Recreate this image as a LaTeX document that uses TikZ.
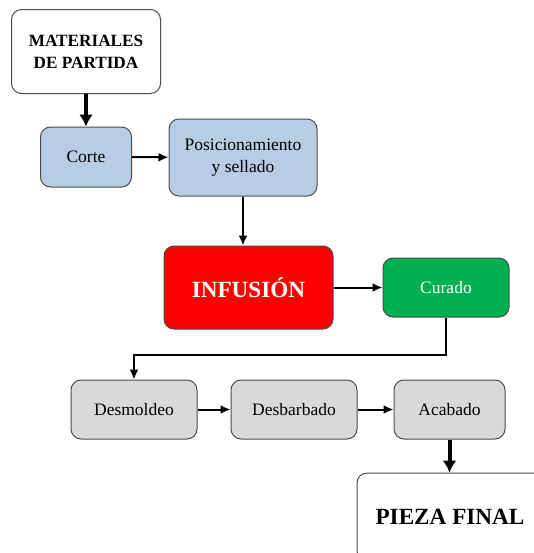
\documentclass[tikz,border=0pt]{standalone}
\usepackage{fontspec}
\setmainfont{Liberation Serif}
\usepackage{xcolor}
\usetikzlibrary{arrows.meta}
\definecolor{azulclaro}{RGB}{184,204,228}
\definecolor{rojoinf}{RGB}{255,0,0}
\definecolor{verdecur}{RGB}{0,176,80}
\definecolor{grisclaro}{RGB}{217,217,217}
\def\boxh{29.5pt}

\begin{document}
\begin{tikzpicture}[x=0.5pt, y=-0.5pt,
		box/.style={rectangle, rounded corners=5pt, draw=gray!60!black, line width=0.5pt,
			align=center, inner sep=0pt, font=\fontsize{8.75}{11}\selectfont},
		big/.style={box, font=\fontsize{8.6}{11}\selectfont\bfseries},
		huge/.style={box, font=\fontsize{11.6}{14}\selectfont\bfseries},
		arr/.style={line width=1pt, -{Latex[length=5pt, width=4.5pt]}},
		fat/.style={line width=2pt, -{Latex[length=6pt, width=7pt]}}]
		\clip (0,0) rectangle (534,553);
		% etapas
		\node[big, fill=white, minimum width=74.5pt, minimum height=42pt] (mat) at (86,51.5) {MATERIALES\\DE PARTIDA};
		\node[box, fill=azulclaro, minimum width=45.5pt, minimum height=30pt] (corte) at (86,157) {Corte};
		\node[box, fill=azulclaro, minimum width=74pt, minimum height=38.5pt] (pos) at (243,157.5) {Posicionamiento\\y sellado};
		\node[huge, fill=rojoinf, text=white, minimum width=84.5pt, minimum height=41.5pt] (inf) at (248.5,287.5) {INFUSIÓN};
		\node[box, fill=verdecur, text=white, minimum width=63pt, minimum height=\boxh] (cur) at (446,287.5) {Curado};
		\node[box, fill=grisclaro, minimum width=63pt, minimum height=\boxh] (desm) at (134,409.5) {Desmoldeo};
		\node[box, fill=grisclaro, minimum width=63pt, minimum height=\boxh] (desb) at (294,409.5) {Desbarbado};
		\node[box, fill=grisclaro, minimum width=55.5pt, minimum height=\boxh] (acab) at (449.5,409.5) {Acabado};
		\node[huge, fill=white, minimum width=93pt, minimum height=44pt] (pieza) at (450,517) {PIEZA FINAL};
		% flechas
		\draw[fat] (mat) -- (corte);
		\draw[arr] (corte) -- (pos);
		\draw[arr] (pos.south) -- (pos.south |- inf.north);
		\draw[arr] (inf) -- (cur);
		\draw[arr] (cur.south) -- ++(0,37) -| (desm.north);
		\draw[arr] (desm) -- (desb);
		\draw[arr] (desb) -- (acab);
		\draw[fat] (acab.south) -- (acab.south |- pieza.north);
	\end{tikzpicture}
\end{document}
